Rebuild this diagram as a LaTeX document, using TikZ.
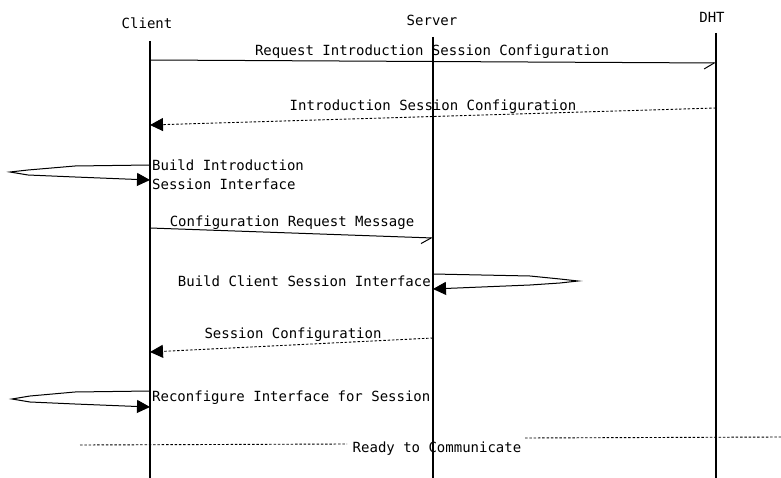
\documentclass[tikz,border=0pt]{standalone}
\usepackage{fontspec}
\setmonofont{DejaVu Sans Mono}
\usetikzlibrary{arrows.meta}
\tikzset{
  lbl/.style={inner sep=0pt, font=\ttfamily\fontsize{14}{19}\selectfont, text=black},
  lifeline/.style={line width=1.1pt},
  msg/.style={line width=1pt},
  dsh/.style={line width=0.9pt, dash pattern=on 2.5pt off 1.8pt},
  half/.style={-{Straight Barb[right,length=10pt,width=12pt]}},
  full/.style={-{Triangle[length=13pt,width=13pt]}},
}
\begin{document}
\begin{tikzpicture}[x=1pt,y=-1pt]
\useasboundingbox (0,0) rectangle (781,478);
% headers
\node[lbl] (client) at (147,23) {Client};
\node[lbl] (server) at (432,20) {Server};
\node[lbl] (dht) at (712,17) {DHT};
% lifelines
\coordinate (ctop) at (150,41);
\coordinate (cbot) at (150,478);
\coordinate (stop) at (433,37);
\coordinate (sbot) at (433,478);
\coordinate (dtop) at (716,33);
\coordinate (dbot) at (716,478);
\draw[lifeline] (ctop) -- (cbot);
\draw[lifeline] (stop) -- (sbot);
\draw[lifeline] (dtop) -- (dbot);
% message 1
\coordinate (c1) at (150,60);
\coordinate (d1) at (716,63);
\draw[msg,half] (c1) -- (d1);
\node[lbl] (m1) at (432,52) {Request Introduction Session Configuration};
% message 2
\coordinate (d2) at (716,108);
\coordinate (c2) at (150,125);
\draw[dsh,full] (d2) -- (c2);
\node[lbl] (m2) at (433,107) {Introduction Session Configuration};
% self message 1
\coordinate (c3a) at (150,165);
\coordinate (c3b) at (150,180);
\draw[msg,full] (c3a) -- (75,166) -- (28,170) -- (10,172) -- (28,175) -- (75,177) -- (c3b);
\node[lbl, anchor=west, align=left] (m3) at (152,175) {Build Introduction\\Session Interface};
% message 4
\coordinate (c4) at (150,228);
\coordinate (s4) at (433,238);
\draw[msg,half] (c4) -- (s4);
\node[lbl] (m4) at (292,223) {Configuration Request Message};
% self message 2
\coordinate (s5a) at (433,274);
\coordinate (s5b) at (433,289);
\draw[msg,full] (s5a) -- (530,276) -- (560,279) -- (578,281) -- (560,283) -- (530,285) -- (s5b);
\node[lbl, anchor=east] (m5) at (431,281) {Build Client Session Interface};
% message 6
\coordinate (s6) at (433,338);
\coordinate (c6) at (150,352);
\draw[dsh,full] (s6) -- (c6);
\node[lbl] (m6) at (293,335) {Session Configuration};
% self message 3
\coordinate (c7a) at (150,391);
\coordinate (c7b) at (150,407);
\draw[msg,full] (c7a) -- (75,392) -- (30,396) -- (12,399) -- (30,402) -- (75,404) -- (c7b);
\node[lbl, anchor=west] (m7) at (152,398) {Reconfigure Interface for Session};
% ready to communicate
\node[lbl] (ready) at (437,449) {Ready to Communicate};
\coordinate (r0) at (80,445);
\coordinate (r1) at (347,444);
\coordinate (r2) at (525,438);
\coordinate (r3) at (781,437);
\draw[dsh] (r0) -- (r1);
\draw[dsh] (r2) -- (r3);
\end{tikzpicture}
\end{document}
